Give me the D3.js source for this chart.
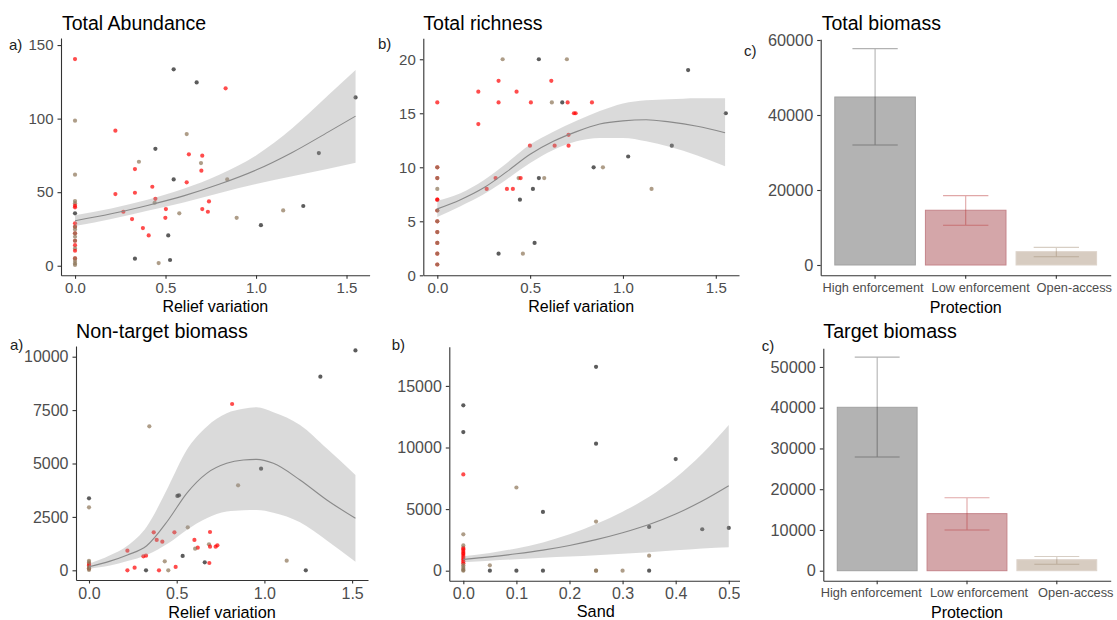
<!DOCTYPE html>
<html>
<head>
<meta charset="utf-8">
<script src="https://cdn.jsdelivr.net/npm/d3@7"></script>
<style>
  body { margin: 0; background: #fff; }
  svg { display: block; }
</style>
</head>
<body>
<svg id="fig" width="1117" height="620"></svg>
<script>
// ---------------------------------------------------------------------------
// Data
// ---------------------------------------------------------------------------
// Protection codes: H = High enforcement, L = Low enforcement, O = Open-access
const protectionLevels = ["High enforcement", "Low enforcement", "Open-access"];
const protectionCodes = ["H", "L", "O"];

// Total abundance vs relief variation: [relief, abundance, protection]
const abundancePoints = [
  [0, 26.5, "L"], [0, 22, "L"], [0, 17, "L"], [0, 5, "L"],
  [0, 140.5, "L"], [0, 98.6, "O"], [0, 61.9, "O"], [0, 44, "O"], [0, 42.4, "O"],
  [0, 40.8, "L"], [0, 39.7, "L"], [0, 35.6, "H"], [0, 28.8, "L"], [0, 26.5, "O"],
  [0, 24.7, "O"], [0, 22, "O"], [0, 19.7, "O"], [0, 17, "O"], [0, 14, "L"],
  [0, 11.8, "O"], [0, 10.2, "L"], [0, 5, "O"], [0, 3.2, "O"], [0, 1.6, "O"], [0, 0.5, "O"],
  [0.545, 133.5, "H"], [0.672, 124.6, "H"], [0.832, 120.6, "L"], [1.55, 114.4, "H"],
  [0.223, 91.8, "L"], [0.617, 89.5, "O"], [0.444, 79.5, "H"], [1.347, 76.6, "H"],
  [0.629, 75.7, "L"], [0.703, 74.8, "L"], [0.696, 69.8, "O"], [0.353, 70.7, "O"],
  [0.331, 65.7, "L"], [0.698, 64.6, "L"], [0.545, 58.7, "H"], [0.841, 58.7, "O"],
  [0.223, 48.7, "L"], [0.331, 49.6, "L"], [0.427, 53.7, "L"], [0.617, 56.7, "L"],
  [0.444, 45.5, "L"], [0.44, 42.8, "O"], [0.74, 43.7, "L"], [0.502, 38.5, "L"],
  [0.703, 38.5, "L"], [0.267, 36.7, "L"], [0.576, 35.6, "O"], [0.734, 36.7, "L"],
  [0.315, 31.7, "L"], [0.499, 32.6, "L"], [0.375, 25.6, "L"], [0.407, 20.6, "L"],
  [0.515, 20.6, "H"], [1.15, 37.6, "O"], [1.261, 40.6, "H"], [0.893, 32.6, "O"],
  [1.027, 27.6, "H"], [0.331, 4.8, "H"], [0.525, 3.9, "H"], [0.462, 1.8, "O"]
];
const abundanceFitX = [0, 0.2, 0.4, 0.6, 0.8, 1.0, 1.2, 1.4, 1.55];
const abundanceFit = [30.6, 35.3, 41, 47.5, 55.5, 65, 77, 91, 101.7];
const abundanceLower = [27, 31.8, 37.3, 43, 49.5, 55.5, 60.8, 66, 70];
const abundanceUpper = [34.4, 38.9, 44.8, 52.3, 62, 75, 93.5, 116, 133];

// Total richness vs relief variation: [relief, richness, protection]
const richnessPoints = [
  [0, 16, "L"], [0, 10, "L"], [0, 10, "O"], [0, 9, "L"], [0, 9, "O"], [0, 8, "O"],
  [0, 7, "L"], [0, 7, "L"], [0, 6, "L"], [0, 6, "O"], [0, 5, "L"], [0, 5, "O"],
  [0, 4, "L"], [0, 4, "O"], [0, 3, "L"], [0, 3, "O"], [0, 2, "L"], [0, 2, "O"],
  [0, 1, "L"], [0, 1, "O"],
  [0.352, 20, "O"], [0.547, 20, "H"], [0.698, 20, "O"], [1.351, 19, "H"],
  [0.33, 18, "L"], [0.614, 18, "L"], [0.221, 17, "L"], [0.427, 17, "L"],
  [0.33, 16, "L"], [0.504, 16, "L"], [0.617, 16, "O"], [0.673, 16, "H"],
  [0.702, 16, "L"], [0.833, 16, "L"], [1.554, 15, "H"], [0.736, 15, "L"],
  [0.745, 15, "L"], [0.221, 14, "L"], [0.707, 13, "L"], [0.499, 12, "L"],
  [0.632, 12, "L"], [0.707, 12, "L"], [1.263, 12, "H"], [1.028, 11, "H"],
  [0.842, 10, "H"], [0.892, 10, "O"], [0.314, 9, "L"], [0.438, 9, "O"],
  [0.449, 9, "L"], [0.547, 9, "H"], [0.576, 9, "O"], [0.266, 8, "L"],
  [0.375, 8, "L"], [0.407, 8, "L"], [0.515, 8, "H"], [1.154, 8, "O"],
  [0.445, 7, "H"], [0.524, 3, "H"], [0.33, 2, "H"], [0.461, 2, "O"]
];
const richnessFitX = [0, 0.125, 0.25, 0.375, 0.5, 0.625, 0.75, 0.875, 1.0, 1.125, 1.25, 1.4, 1.55];
const richnessFit = [6.15, 7.0, 8.1, 9.6, 11.2, 12.4, 13.3, 14.0, 14.3, 14.4, 14.2, 13.8, 13.2];
const richnessLower = [5.4, 6.4, 7.5, 8.9, 10.4, 11.6, 12.4, 12.7, 12.7, 12.4, 11.9, 11.1, 10.1];
const richnessUpper = [6.9, 7.6, 8.8, 10.4, 12.1, 13.3, 14.3, 15.2, 15.9, 16.2, 16.3, 16.4, 16.4];

// Total biomass by protection level: mean and interval
const totalBiomassMean = [44800, 14600, 3550];
const totalBiomassLow = [32000, 10600, 2200];
const totalBiomassHigh = [57700, 18500, 4700];

// Non-target biomass vs relief variation: [relief, biomass, protection]
const nonTargetPoints = [
  [0, 80, "L"], [0, 300, "L"], [0, 220, "L"],
  [1.519, 10296, "H"], [1.319, 9064, "H"], [0.816, 7785, "L"], [0.344, 6740, "O"],
  [0.981, 4758, "H"], [0.85, 3978, "O"], [0.513, 3510, "H"], [0.504, 3480, "H"],
  [0, 3370, "H"], [0, 2950, "O"], [0.563, 2012, "O"], [0.369, 1778, "L"],
  [0.487, 1778, "L"], [0.69, 1794, "L"], [0.386, 1420, "L"], [0.418, 1342, "L"],
  [0.601, 1420, "L"], [0.62, 1060, "L"], [0.605, 1014, "O"], [0.684, 1217, "O"],
  [0.69, 1108, "L"], [0.722, 1108, "L"], [0.732, 1170, "L"], [0.31, 655, "L"],
  [0.325, 686, "L"], [0.219, 920, "L"], [0.534, 671, "H"], [0.66, 374, "H"],
  [0.686, 343, "L"], [0.432, 421, "O"], [1.127, 452, "O"], [0.219, 0, "L"],
  [0.26, 125, "L"], [0.325, 0, "H"], [0.399, 0, "L"], [0.452, 0, "O"],
  [0.494, 156, "L"], [1.236, 0, "H"],
  [0, 445, "O"], [0, 370, "O"], [0, 150, "O"], [0, 80, "O"], [0, 20, "O"]
];
const nonTargetFitX = [0, 0.12, 0.219, 0.329, 0.452, 0.557, 0.671, 0.785, 0.88, 0.956, 1.051, 1.203, 1.356, 1.519];
const nonTargetFit = [170, 430, 718, 1150, 2356, 3604, 4540, 5008, 5164, 5195, 5008, 4228, 3292, 2434];
const nonTargetLower = [78, 220, 430, 718, 1264, 1888, 2434, 2750, 2810, 2824, 2700, 2250, 1400, 406];
const nonTargetUpper = [300, 700, 1150, 2044, 3916, 5632, 6724, 7350, 7560, 7628, 7400, 6800, 5700, 4462];

// Non-target biomass vs sand cover: [sand, biomass, protection]
const sandPoints = [
  [0, 1850, "L"], [0, 1750, "L"], [0, 1600, "L"], [0, 1450, "L"], [0, 1350, "L"],
  [0, 1200, "L"], [0, 1050, "L"], [0, 900, "L"], [0, 750, "L"], [0, 600, "L"],
  [0.25, 16545, "H"], [0, 13426, "H"], [0, 11256, "H"], [0.25, 10307, "H"],
  [0, 7811, "L"], [0.4, 9059, "H"], [0.1, 6753, "O"], [0.15, 4773, "H"],
  [0.25, 3987, "O"], [0.35, 3553, "H"], [0.45, 3363, "H"], [0.5, 3472, "H"],
  [0.35, 1221, "O"], [0, 2956, "O"], [0, 2050, "O"],
  [0, 450, "O"], [0, 300, "O"], [0, 150, "O"], [0, 50, "O"], [0, 0, "O"],
  [0.05, 434, "O"], [0.05, 0, "H"], [0.1, 0, "H"], [0.15, 0, "H"],
  [0.25, 0, "O"], [0.25, 0, "O"], [0.3, 0, "O"], [0.35, 0, "H"]
];
const sandFitX = [0, 0.05, 0.1, 0.15, 0.2, 0.25, 0.3, 0.35, 0.4, 0.45, 0.5];
const sandFit = [922, 1120, 1370, 1670, 2050, 2520, 3080, 3750, 4600, 5650, 6890];
const sandLower = [680, 800, 930, 1050, 1150, 1250, 1370, 1500, 1650, 1800, 1900];
const sandUpper = [1165, 1440, 1810, 2290, 2950, 3790, 4790, 6000, 7550, 9500, 11830];

// Target biomass by protection level: mean and interval
const targetBiomassMean = [40100, 14000, 2700];
const targetBiomassLow = [27900, 10000, 1600];
const targetBiomassHigh = [52400, 17900, 3500];

// Tick values
const reliefTicks = [0, 0.5, 1.0, 1.5];
const sandTicks = [0, 0.1, 0.2, 0.3, 0.4, 0.5];
const abundanceTicks = [0, 50, 100, 150];
const richnessTicks = [0, 5, 10, 15, 20];
const totalBiomassTicks = [0, 20000, 40000, 60000];
const nonTargetTicks = [0, 2500, 5000, 7500, 10000];
const sandBiomassTicks = [0, 5000, 10000, 15000];
const targetBiomassTicks = [0, 10000, 20000, 30000, 40000, 50000];

// ---------------------------------------------------------------------------
// Styles
// ---------------------------------------------------------------------------
const FONT = "'Liberation Sans', Arial, Helvetica, sans-serif";
const pointFill = { H: "#333333", L: "#ff0000", O: "#8b7355" };
const pointOpacity = { H: 0.8, L: 0.7, O: 0.7 };
const barFill = { H: "#b3b3b3", L: "#d4a6a9", O: "#d7ccc1" };
const barStroke = { H: "#a2a2a2", L: "#c5848a", O: "#ddd3ca" };
const errStroke = { H: "#000000", L: "#b22222", O: "#8b7355" };
const errOpacity = { H: 0.3, L: 0.4, O: 0.35 };

const svg = d3.select("#fig");
svg.append("rect").attr("width", 1117).attr("height", 620).attr("fill", "#fff");

const defs = svg.append("defs");
defs.append("clipPath").attr("id", "clip-sand")
  .append("rect").attr("x", 370).attr("y", 310).attr("width", 370).attr("height", 310);

function styleAxis(a, fs) {
  a.attr("font-family", FONT).attr("font-size", fs);
  a.select(".domain").attr("stroke", "#333").attr("stroke-width", 1.1);
  a.selectAll(".tick line").attr("stroke", "#333").attr("stroke-width", 1.1);
  a.selectAll(".tick text").attr("fill", "#4d4d4d");
}

function addText(g, txt, x, y, fs, opts = {}) {
  return g.append("text").text(txt)
    .attr("x", x).attr("y", y)
    .attr("font-family", FONT).attr("font-size", fs)
    .attr("fill", opts.fill || "#000")
    .attr("text-anchor", opts.anchor || "start");
}

function drawYAxis(g, y, o) {
  const ay = g.append("g").attr("transform", `translate(${o.left},0)`)
    .call(d3.axisLeft(y).tickValues(o.yTicks).tickFormat(d3.format("d"))
      .tickSizeInner(3.5).tickSizeOuter(0).tickPadding(4));
  styleAxis(ay, o.yTickFont);
}

function drawLabels(g, o) {
  if (o.title) addText(g, o.title, o.titleX, o.titleY, o.titleFont);
  addText(g, o.tag, o.tagX, o.tagY, 15, { fill: "#222" });
  addText(g, o.xLabel, (o.left + o.right) / 2, o.xLabelY, o.xLabelFont, { anchor: "middle" });
}

// Scatter panel with fitted curve and confidence band
function scatterPanel(o) {
  const g = svg.append("g");
  if (o.clip) g.attr("clip-path", `url(#${o.clip})`);
  const x = d3.scaleLinear().domain(o.xDomain).range([o.left, o.right]);
  const y = d3.scaleLinear().domain(o.yDomain).range([o.bottom, o.top]);

  g.append("g").selectAll("circle").data(o.points).join("circle")
    .attr("cx", d => x(d[0])).attr("cy", d => y(d[1])).attr("r", 2.1)
    .attr("fill", d => pointFill[d[2]]).attr("fill-opacity", d => pointOpacity[d[2]]);

  const idx = d3.range(o.fitX.length);
  g.append("path").datum(idx)
    .attr("d", d3.area().x(i => x(o.fitX[i])).y0(i => y(o.lower[i])).y1(i => y(o.upper[i]))
      .curve(d3.curveMonotoneX))
    .attr("fill", "#999999").attr("fill-opacity", 0.36);
  g.append("path").datum(idx)
    .attr("d", d3.line().x(i => x(o.fitX[i])).y(i => y(o.fit[i])).curve(d3.curveMonotoneX))
    .attr("fill", "none").attr("stroke", "#8a8a8a").attr("stroke-width", 1.1);

  const ax = g.append("g").attr("transform", `translate(0,${o.bottom})`)
    .call(d3.axisBottom(x).tickValues(o.xTicks).tickFormat(d3.format(".1f"))
      .tickSizeInner(3.5).tickSizeOuter(0).tickPadding(3.8));
  styleAxis(ax, o.xTickFont);
  drawYAxis(g, y, o);
  drawLabels(g, o);
}

// Bar panel with error bars by protection level
function barPanel(o) {
  const g = svg.append("g");
  const x = d3.scaleBand().domain(protectionLevels).range([o.left, o.right])
    .paddingInner(0.1).paddingOuter(0.15);
  const y = d3.scaleLinear().domain(o.yDomain).range([o.bottom, o.top]);
  const rows = protectionLevels.map((p, i) => ({
    p, code: protectionCodes[i], mean: o.mean[i], lo: o.lo[i], hi: o.hi[i]
  }));

  g.append("g").selectAll("rect").data(rows).join("rect")
    .attr("x", d => x(d.p) + 0.5).attr("width", x.bandwidth() - 1)
    .attr("y", d => y(d.mean)).attr("height", d => y(0) - y(d.mean))
    .attr("fill", d => barFill[d.code]).attr("stroke", d => barStroke[d.code]).attr("stroke-width", 1);

  const cap = x.step() * 0.25;
  const eb = g.append("g").selectAll("g").data(rows).join("g")
    .attr("stroke", d => errStroke[d.code]).attr("stroke-opacity", d => errOpacity[d.code])
    .attr("stroke-width", 1.1).attr("fill", "none");
  eb.append("path").attr("d", d => {
    const c = x(d.p) + x.bandwidth() / 2;
    return `M${c - cap},${y(d.hi)}H${c + cap}M${c},${y(d.hi)}V${y(d.lo)}M${c - cap},${y(d.lo)}H${c + cap}`;
  });

  const ax = g.append("g").attr("transform", `translate(0,${o.bottom})`)
    .call(d3.axisBottom(x).tickSizeInner(3.5).tickSizeOuter(0).tickPadding(3.8));
  styleAxis(ax, o.xTickFont);
  // category names are nudged apart so the long labels do not collide
  ax.selectAll(".tick text").attr("dx", (d, i) => o.labelShift[i]);
  drawYAxis(g, y, o);
  drawLabels(g, o);
}

// ---------------------------------------------------------------------------
// Panels
// ---------------------------------------------------------------------------
scatterPanel({
  points: abundancePoints, fitX: abundanceFitX, fit: abundanceFit, lower: abundanceLower, upper: abundanceUpper,
  left: 61, right: 369.6, top: 38, bottom: 275.3,
  xDomain: [-0.0775, 1.6275], yDomain: [-6.5, 154.8],
  xTicks: reliefTicks, yTicks: abundanceTicks, xTickFont: 15, yTickFont: 15,
  title: "Total Abundance", titleX: 62, titleY: 30, titleFont: 19.5,
  tag: "a)", tagX: 9, tagY: 50,
  xLabel: "Relief variation", xLabelY: 311.5, xLabelFont: 16
});

scatterPanel({
  points: richnessPoints, fitX: richnessFitX, fit: richnessFit, lower: richnessLower, upper: richnessUpper,
  left: 423.3, right: 739, top: 38.3, bottom: 275.3,
  xDomain: [-0.0754, 1.625], yDomain: [0, 21.94],
  xTicks: reliefTicks, yTicks: richnessTicks, xTickFont: 15, yTickFont: 15,
  title: "Total richness", titleX: 423.3, titleY: 30, titleFont: 19.5,
  tag: "b)", tagX: 378, tagY: 49,
  xLabel: "Relief variation", xLabelY: 311.5, xLabelFont: 16
});

barPanel({
  mean: totalBiomassMean, lo: totalBiomassLow, hi: totalBiomassHigh,
  left: 820.7, right: 1110.7, top: 39.3, bottom: 275.3,
  yDomain: [-2747, 60187], yTicks: totalBiomassTicks, xTickFont: 12.8, yTickFont: 16.3,
  labelShift: [-2, 15, 18],
  title: "Total biomass", titleX: 821.7, titleY: 30, titleFont: 19.5,
  tag: "c)", tagX: 744, tagY: 56,
  xLabel: "Protection", xLabelY: 313, xLabelFont: 16
});

scatterPanel({
  points: nonTargetPoints, fitX: nonTargetFitX, fit: nonTargetFit, lower: nonTargetLower, upper: nonTargetUpper,
  left: 76, right: 368, top: 346, bottom: 580,
  xDomain: [-0.0741, 1.5906], yDomain: [-454, 10501],
  xTicks: reliefTicks, yTicks: nonTargetTicks, xTickFont: 16, yTickFont: 16,
  title: "Non-target biomass", titleX: 76, titleY: 338, titleFont: 19.7,
  tag: "a)", tagX: 10, tagY: 350,
  xLabel: "Relief variation", xLabelY: 617.5, xLabelFont: 16.3
});

scatterPanel({
  points: sandPoints, fitX: sandFitX, fit: sandFit, lower: sandLower, upper: sandUpper,
  left: 449.3, right: 742.2, top: 346.7, bottom: 580.7,
  xDomain: [-0.0264, 0.5253], yDomain: [-812, 18182],
  xTicks: sandTicks, yTicks: sandBiomassTicks, xTickFont: 16, yTickFont: 16,
  title: "", titleX: 449.3, titleY: 338, titleFont: 19.7,
  tag: "b)", tagX: 391.7, tagY: 350,
  xLabel: "Sand", xLabelY: 617, xLabelFont: 16.3,
  clip: "clip-sand"
});

barPanel({
  mean: targetBiomassMean, lo: targetBiomassLow, hi: targetBiomassHigh,
  left: 823.3, right: 1110.7, top: 348.3, bottom: 580.7,
  yDomain: [-2454, 54577], yTicks: targetBiomassTicks, xTickFont: 12.8, yTickFont: 16.3,
  labelShift: [-6, 12, 19],
  title: "Target biomass", titleX: 823.3, titleY: 338, titleFont: 19.7,
  tag: "c)", tagX: 761.7, tagY: 351,
  xLabel: "Protection", xLabelY: 618, xLabelFont: 16
});
</script>
</body>
</html>
